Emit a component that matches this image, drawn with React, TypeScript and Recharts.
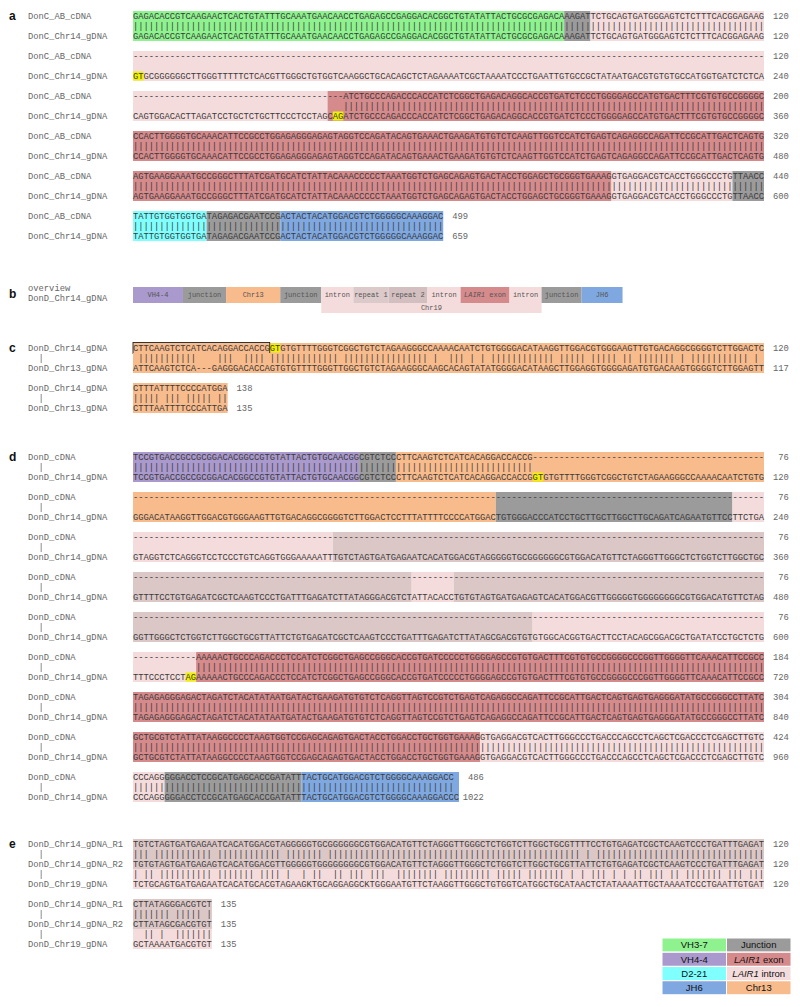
import React from "react";
import { BarChart, Bar, XAxis, YAxis } from "recharts";

const MONO = "'Liberation Mono', 'DejaVu Sans Mono', monospace";
const SANS = "'Liberation Sans', Arial, sans-serif";

const REGION_COLORS: Record<string, string> = {
  "VH3-7": "#8ef28e",
  "VH4-4": "#a999cc",
  "D2-21": "#80ffff",
  JH6: "#7fa8e0",
  Junction: "#9b9b9b",
  "LAIR1 exon": "#d58a8c",
  "LAIR1 intron": "#f5dcdc",
  Chr13: "#f8bb8c",
  repeat: "#dcc7c7",
  "repeat 1": "#dccaca",
  "repeat 2": "#d3bfbf",
  blank: "none",
};

type Seg = [string, number];
type Mark = [number, number, number, number]; // track, block, from, to

const gap = (n: number) => "-".repeat(n);

// ---- a: DonC antibody cDNA vs chr14 genomic
const aCdna = [
  "GAGACACCGTCAAGAACTCACTGTATTTGCAAATGAACAACCTGAGAGCCGAGGACACGGCTGTATATTACTGCGCGAGACAAAGATTCTGCAGTGATGGGAGTCTCTTTCACGGAGAAG",
  gap(120),
  gap(40) + "ATCTGCCCAGACCCACCATCTCGGCTGAGACAGGCACCGTGATCTCCCTGGGGAGCCATGTGACTTTCGTGTGCCGGGGC",
  "CCACTTGGGGTGCAAACATTCCGCCTGGAGAGGGAGAGTAGGTCCAGATACAGTGAAACTGAAGATGTGTCTCAAGTTGGTCCATCTGAGTCAGAGGCCAGATTCCGCATTGACTCAGTG",
  "AGTGAAGGAAATGCCGGGCTTTATCGATGCATCTATTACAAACCCCCTAAATGGTCTGAGCAGAGTGACTACCTGGAGCTGCGGGTGAAAGGTGAGGACGTCACCTGGGCCCTGTTAACC",
  "TATTGTGGTGGTGATAGAGACGAATCCGACTACTACATGGACGTCTGGGGGCAAAGGAC",
];
const aGdna = [
  "GAGACACCGTCAAGAACTCACTGTATTTGCAAATGAACAACCTGAGAGCCGAGGACACGGCTGTATATTACTGCGCGAGACAAAGATTCTGCAGTGATGGGAGTCTCTTTCACGGAGAAG",
  "GTGCGGGGGGCTTGGGTTTTTCTCACGTTGGGCTGTGGTCAAGGCTGCACAGCTCTAGAAAATCGCTAAAATCCCTGAATTGTGCCGCTATAATGACGTGTGTGCCATGGTGATCTCTCA",
  "CAGTGGACACTTAGATCCTGCTCTGCTTCCCTCCTAGCAG" + "ATCTGCCCAGACCCACCATCTCGGCTGAGACAGGCACCGTGATCTCCCTGGGGAGCCATGTGACTTTCGTGTGCCGGGGC",
  "CCACTTGGGGTGCAAACATTCCGCCTGGAGAGGGAGAGTAGGTCCAGATACAGTGAAACTGAAGATGTGTCTCAAGTTGGTCCATCTGAGTCAGAGGCCAGATTCCGCATTGACTCAGTG",
  "AGTGAAGGAAATGCCGGGCTTTATCGATGCATCTATTACAAACCCCCTAAATGGTCTGAGCAGAGTGACTACCTGGAGCTGCGGGTGAAAGGTGAGGACGTCACCTGGGCCCTGTTAACC",
  "TATTGTGGTGGTGATAGAGACGAATCCGACTACTACATGGACGTCTGGGGGCAAAGGAC",
];
const aCdnaEnd = [120, 120, 200, 320, 440, 499];
const aGdnaEnd = [120, 240, 360, 480, 600, 659];
const aBands: Seg[][] = [
  [["VH3-7", 82], ["Junction", 5], ["LAIR1 intron", 33]],
  [["LAIR1 intron", 120]],
  [["LAIR1 intron", 37], ["LAIR1 exon", 83]],
  [["LAIR1 exon", 120]],
  [["LAIR1 exon", 91], ["LAIR1 intron", 23], ["Junction", 6]],
  [["D2-21", 14], ["Junction", 14], ["JH6", 31]],
];
const aSplice: Mark[] = [[1, 1, 0, 2], [1, 2, 38, 40]];

// ---- b: overview of DonD chr14 insert
const bOverview: [string, string, number][] = [
  ["VH4-4", "VH4-4", 9.5],
  ["junction", "Junction", 8.2],
  ["Chr13", "Chr13", 10.3],
  ["junction", "Junction", 7.8],
  ["intron", "LAIR1 intron", 6.1],
  ["repeat 1", "repeat 1", 6.7],
  ["repeat 2", "repeat 2", 7.4],
  ["intron", "LAIR1 intron", 6.3],
  ["LAIR1 exon", "LAIR1 exon", 9.3],
  ["intron", "LAIR1 intron", 6.1],
  ["junction", "Junction", 7.6],
  ["JH6", "JH6", 7.8],
];
const bChr19: [string, string, number][] = [
  ["", "blank", 35.8],
  ["Chr19", "LAIR1 intron", 41.9],
];

// ---- c: DonD chr14 vs chr13
const cChr14 = [
  "CTTCAAGTCTCATCACAGGACCACCGGTGTGTTTTGGGTCGGCTGTCTAGAAGGGCCAAAACAATCTGTGGGGACATAAGGTTGGACGTGGGAAGTTGTGACAGGCGGGGTCTTGGACTC",
  "CTTTATTTTCCCCATGGA",
];
const cChr13 = [
  "ATTCAAGTCTCA---GAGGGACACCAGTGTGTTTTGGGTTGGCTGTCTAGAAGGGCAAGCACAGTATATGGGGACATAAGCTTGGAGGTGGGGAGATGTGACAAGTGGGGTCTTGGAGTT",
  "CTTTAATTTTCCCATTGA",
];
const cChr14End = [120, 138];
const cChr13End = [117, 135];
const cBands: Seg[][] = [[["Chr13", 120]], [["Chr13", 18]]];
const cSplice: Mark[] = [[0, 0, 26, 28]];
const cBoxes: Mark[] = [[0, 0, 0, 26]];

// ---- d: DonD cDNA vs chr14 genomic
const dCdna = [
  "TCCGTGACCGCCGCGGACACGGCCGTGTATTACTGTGCAACGGCGTCTCCCTTCAAGTCTCATCACAGGACCACCG" + gap(44),
  gap(120),
  gap(120),
  gap(120),
  gap(120),
  gap(12) + "AAAAACTGCCCAGACCCTCCATCTCGGCTGAGCCGGGCACCGTGATCCCCCTGGGGAGCCGTGTGACTTTCGTGTGCCGGGGCCCGGTTGGGGTTCAAACATTCCGCC",
  "TAGAGAGGGAGACTAGATCTACATATAATGATACTGAAGATGTGTCTCAGGTTAGTCCGTCTGAGTCAGAGGCCAGATTCCGCATTGACTCAGTGAGTGAGGGATATGCCGGGCCTTATC",
  "GCTGCGTCTATTATAAGGCCCCTAAGTGGTCCGAGCAGAGTGACTACCTGGACCTGCTGGTGAAAGGTGAGGACGTCACTTGGGCCCTGACCCAGCCTCAGCTCGACCCTCGAGCTTGTC",
  "CCCAGGGGGACCTCCGCATGAGCACCGATATTTACTGCATGGACGTCTGGGGCAAAGGACC",
];
const dGdna = [
  "TCCGTGACCGCCGCGGACACGGCCGTGTATTACTGTGCAACGGCGTCTCCCTTCAAGTCTCATCACAGGACCACCG" + "GTGTGTTTTGGGTCGGCTGTCTAGAAGGGCCAAAACAATCTGTG",
  "GGGACATAAGGTTGGACGTGGGAAGTTGTGACAGGCGGGGTCTTGGACTCCTTTATTTTCCCCATGGACTGTGGGACCCATCCTGCTTGCTTGGCTTGCAGATCAGAATGTTCCTTCTGA",
  "GTAGGTCTCAGGGTCCTCCCTGTCAGGTGGGAAAAATT" + "TGTCTAGTGATGAGAATCACATGGACGTAGGGGGTGCGGGGGGCGTGGACATGTTCTAGGGTTGGGCTCTGGTCTTGGCTGC",
  "GTTTTCCTGTGAGATCGCTCAAGTCCCTGATTTGAGAT" + "CTTATAGGGACGTCT" + "ATTACACC" + "TGTGTAGTGATGAGAGTCACATGGACGTTGGGGGTGGGGGGGGCGTGGACATGTTCTAG",
  "GGTTGGGCTCTGGTCTTGGCTGCGTTATTCTGTGAGATCGCTCAAGTCCCTGATTTGAGAT" + "CTTATAGCGACGTGT" + "GTGGCACGGTGACTTCCTACAGCGGACGCTGATATCCTGCTCTG",
  "TTTCCCTCCTAG" + "AAAAACTGCCCAGACCCTCCATCTCGGCTGAGCCGGGCACCGTGATCCCCCTGGGGAGCCGTGTGACTTTCGTGTGCCGGGGCCCGGTTGGGGTTCAAACATTCCGCC",
  "TAGAGAGGGAGACTAGATCTACATATAATGATACTGAAGATGTGTCTCAGGTTAGTCCGTCTGAGTCAGAGGCCAGATTCCGCATTGACTCAGTGAGTGAGGGATATGCCGGGCCTTATC",
  "GCTGCGTCTATTATAAGGCCCCTAAGTGGTCCGAGCAGAGTGACTACCTGGACCTGCTGGTGAAAGGTGAGGACGTCACTTGGGCCCTGACCCAGCCTCAGCTCGACCCTCGAGCTTGTC",
  "CCCAGGGGGACCTCCGCATGAGCACCGATATTTACTGCATGGACGTCTGGGGCAAAGGACCC",
];
const dCdnaEnd = [76, 76, 76, 76, 76, 184, 304, 424, 486];
const dGdnaEnd = [120, 240, 360, 480, 600, 720, 840, 960, 1022];
const dBands: Seg[][] = [
  [["VH4-4", 43], ["Junction", 7], ["Chr13", 70]],
  [["Chr13", 69], ["Junction", 45], ["LAIR1 intron", 6]],
  [["LAIR1 intron", 38], ["repeat", 82]],
  [["repeat", 53], ["LAIR1 intron", 8], ["repeat", 59]],
  [["repeat", 76], ["LAIR1 intron", 44]],
  [["LAIR1 intron", 12], ["LAIR1 exon", 108]],
  [["LAIR1 exon", 120]],
  [["LAIR1 exon", 66], ["LAIR1 intron", 54]],
  [["LAIR1 intron", 6], ["Junction", 26], ["JH6", 30]],
];
const dSplice: Mark[] = [[1, 0, 76, 78], [1, 5, 10, 12]];

// ---- e: the two chr14 repeats vs chr19
const eR1 = [
  "TGTCTAGTGATGAGAATCACATGGACGTAGGGGGTGCGGGGGGCGTGGACATGTTCTAGGGTTGGGCTCTGGTCTTGGCTGCGTTTTCCTGTGAGATCGCTCAAGTCCCTGATTTGAGAT",
  "CTTATAGGGACGTCT",
];
const eR2 = [
  "TGTGTAGTGATGAGAGTCACATGGACGTTGGGGGTGGGGGGGGCGTGGACATGTTCTAG" + "GGTTGGGCTCTGGTCTTGGCTGCGTTATTCTGTGAGATCGCTCAAGTCCCTGATTTGAGAT",
  "CTTATAGCGACGTGT",
];
const eChr19 = [
  "TCTGCAGTGATGAGAATCACATGCACGTAGAAGKTGCAGGAGGCKTGGGAATGTTCTAAGGTTGGGCTGTGGTCATGGCTGCATAACTCTATAAAATTGCTAAAATCCCTGAATTGTGAT",
  "GCTAAAATGACGTGT",
];
const eEnd = [120, 135];
const eRepeatBands: Seg[][] = [[["repeat", 120]], [["repeat", 15]]];
const eChr19Bands: Seg[][] = [[["LAIR1 intron", 120]], [["LAIR1 intron", 15]]];

// ---- colour key
const legendLeft = ["VH3-7", "VH4-4", "D2-21", "JH6"];
const legendRight = ["Junction", "LAIR1 exon", "LAIR1 intron", "Chr13"];

// ---------------------------------------------------------------

type Track = { label: string; seqs: string[]; ends: number[]; bands: Seg[][] };
type Row = {
  id: string;
  label: string;
  letter?: string;
  seq: string;
  end?: number;
  segs: Seg[];
  splice?: [number, number];
  box?: [number, number];
};

const ROW_H = 10;
const PLOT_LEFT = 133;
const PLOT_RIGHT = 36;
const COLS = 120;
const LABEL_X = 28;
const LETTER_X = 9;

function matchLine(a: string, b: string) {
  let out = "";
  for (let i = 0; i < a.length; i++) {
    out += a[i] === b[i] && a[i] !== "-" ? "|" : " ";
  }
  return out.replace(/\s+$/, "");
}

function buildRows(key: string, letter: string, tracks: Track[], pipe: string, marks: Mark[] = [], boxes: Mark[] = []) {
  const rows: Row[] = [];
  const nBlocks = tracks[0].seqs.length;
  for (let b = 0; b < nBlocks; b++) {
    tracks.forEach((t, ti) => {
      const m = marks.find((k) => k[0] === ti && k[1] === b);
      const bx = boxes.find((k) => k[0] === ti && k[1] === b);
      rows.push({
        id: key + rows.length,
        label: t.label,
        letter: b === 0 && ti === 0 ? letter : undefined,
        seq: t.seqs[b],
        end: t.ends[b],
        segs: t.bands[b],
        splice: m ? [m[2], m[3]] : undefined,
        box: bx ? [bx[2], bx[3]] : undefined,
      });
      if (ti < tracks.length - 1) {
        const next = tracks[ti + 1];
        rows.push({ id: key + rows.length, label: pipe, seq: matchLine(t.seqs[b], next.seqs[b]), segs: next.bands[b] });
      }
    });
    if (b < nBlocks - 1) rows.push({ id: key + rows.length, label: "", seq: "", segs: [] });
  }
  return rows;
}

const aRows = buildRows("a", "a", [
  { label: "DonC_AB_cDNA", seqs: aCdna, ends: aCdnaEnd, bands: aBands },
  { label: "DonC_Chr14_gDNA", seqs: aGdna, ends: aGdnaEnd, bands: aBands },
], "", aSplice);

const cRows = buildRows("c", "c", [
  { label: "DonD_Chr14_gDNA", seqs: cChr14, ends: cChr14End, bands: cBands },
  { label: "DonD_Chr13_gDNA", seqs: cChr13, ends: cChr13End, bands: cBands },
], "  |", cSplice, cBoxes);

const dRows = buildRows("d", "d", [
  { label: "DonD_cDNA", seqs: dCdna, ends: dCdnaEnd, bands: dBands },
  { label: "DonD_Chr14_gDNA", seqs: dGdna, ends: dGdnaEnd, bands: dBands },
], "  |", dSplice);

const eRows = buildRows("e", "e", [
  { label: "DonD_Chr14_gDNA_R1", seqs: eR1, ends: eEnd, bands: eRepeatBands },
  { label: "DonD_Chr14_gDNA_R2", seqs: eR2, ends: eEnd, bands: eRepeatBands },
  { label: "DonD_Chr19_gDNA", seqs: eChr19, ends: eEnd, bands: eChr19Bands },
], "  |");

function italicLair(label: string) {
  if (!label.startsWith("LAIR1")) return label;
  return (
    <>
      <tspan fontStyle="italic">LAIR1</tspan>
      {label.slice(5)}
    </>
  );
}

const rowTick = (byId: Record<string, Row>) => (p: any) => {
  const row = byId[p.payload?.value];
  if (!row) return <g />;
  return (
    <g>
      {row.letter && (
        <text x={LETTER_X} y={p.y} dy="0.35em" fontFamily={SANS} fontWeight="bold" fontSize={12} fill="#111">
          {row.letter}
        </text>
      )}
      {row.label && (
        <text x={LABEL_X} y={p.y} dy="0.35em" fontFamily={MONO} fontSize={8.8} fill="#666" xmlSpace="preserve" style={{ whiteSpace: "pre" }}>
          {row.label}
        </text>
      )}
    </g>
  );
};

const bandShape = (slot: number, last: boolean, byId: Record<string, Row>) => (p: any) => {
  const { x, y, width, height, payload } = p;
  if (!payload || !(width > 0)) return <g />;
  const row = byId[payload.id];
  const fill = REGION_COLORS[payload["k" + slot]] ?? "none";
  const rect = <rect x={x} y={y} width={width} height={height} fill={fill} />;
  if (!last || !row) return rect;
  const unit = width / payload["s" + slot];
  const total = row.segs.reduce((s, sg) => s + sg[1], 0);
  const x0 = x + width - total * unit;
  const cy = y + height / 2;
  return (
    <g>
      {rect}
      {row.splice && (
        <rect x={x0 + row.splice[0] * unit} y={y + 0.5} width={(row.splice[1] - row.splice[0]) * unit} height={height - 1} fill="#f2f200" />
      )}
      {row.box && (
        <rect x={x0 + row.box[0] * unit} y={y - 0.5} width={(row.box[1] - row.box[0]) * unit} height={height + 1} fill="none" stroke="#222" strokeWidth={0.9} />
      )}
      {row.seq && (
        <text
          x={x0}
          y={cy}
          dy="0.35em"
          fontFamily={MONO}
          fontSize={8.8}
          fill="#3a3a3a"
          textLength={row.seq.length * unit}
          lengthAdjust="spacing"
          xmlSpace="preserve"
          style={{ whiteSpace: "pre" }}
        >
          {row.seq}
        </text>
      )}
      {row.end != null && (
        <text x={x0 + total * unit + 9 + 3 * unit} y={cy} dy="0.35em" textAnchor="end" fontFamily={MONO} fontSize={8.8} fill="#666">
          {row.end}
        </text>
      )}
    </g>
  );
};

function AlignmentPanel({ rows, top }: { rows: Row[]; top: number }) {
  const byId: Record<string, Row> = {};
  rows.forEach((r) => (byId[r.id] = r));
  const slots = Math.max(1, ...rows.map((r) => r.segs.length));
  const data = rows.map((r) => {
    const d: Record<string, any> = { id: r.id };
    const off = slots - r.segs.length;
    for (let i = 0; i < slots; i++) {
      const seg = i >= off ? r.segs[i - off] : null;
      d["s" + i] = seg ? seg[1] : 0;
      d["k" + i] = seg ? seg[0] : "blank";
    }
    return d;
  });
  return (
    <div style={{ position: "absolute", left: 0, top }}>
      <BarChart
        width={800}
        height={rows.length * ROW_H}
        data={data}
        layout="vertical"
        margin={{ top: 0, right: PLOT_RIGHT, bottom: 0, left: 0 }}
        barCategoryGap={0}
        barGap={0}
      >
        <XAxis type="number" domain={[0, COLS]} hide />
        <YAxis type="category" dataKey="id" width={PLOT_LEFT} interval={0} axisLine={false} tickLine={false} tick={rowTick(byId)} />
        {Array.from({ length: slots }, (_, i) => (
          <Bar key={i} dataKey={"s" + i} stackId="band" isAnimationActive={false} shape={bandShape(i, i === slots - 1, byId)} />
        ))}
      </BarChart>
    </div>
  );
}

function StripChart({ top, height, segs, lines, letter }: { top: number; height: number; segs: [string, string, number][]; lines?: string[]; letter?: string }) {
  const row: Record<string, any> = { id: "strip" };
  segs.forEach((s, i) => (row["s" + i] = s[2]));
  const shape = (i: number) => (p: any) => {
    const { x, y, width, height: h } = p;
    if (!(width > 0)) return <g />;
    const [label, region] = segs[i];
    return (
      <g>
        <rect x={x} y={y} width={width} height={h} fill={REGION_COLORS[region]} />
        {label && (
          <text x={x + width / 2} y={y + h / 2} dy="0.35em" textAnchor="middle" fontFamily={MONO} fontSize={7} fill="#555" xmlSpace="preserve">
            {italicLair(label)}
          </text>
        )}
      </g>
    );
  };
  const tick = (p: any) => (
    <g>
      {letter && (
        <text x={LETTER_X} y={p.y - 1} dy="0.35em" fontFamily={SANS} fontWeight="bold" fontSize={12} fill="#111">
          {letter}
        </text>
      )}
      {(lines || []).map((l, i) => (
        <text key={l} x={LABEL_X} y={p.y - 7 + i * 10} dy="0.35em" fontFamily={MONO} fontSize={8.8} fill="#666">
          {l}
        </text>
      ))}
    </g>
  );
  return (
    <div style={{ position: "absolute", left: 0, top }}>
      <BarChart width={800} height={height} data={[row]} layout="vertical" margin={{ top: 0, right: PLOT_RIGHT, bottom: 0, left: 0 }} barCategoryGap={0} barGap={0}>
        <XAxis type="number" domain={[0, COLS]} hide />
        <YAxis type="category" dataKey="id" width={PLOT_LEFT} interval={0} axisLine={false} tickLine={false} tick={tick} />
        {segs.map((_, i) => (
          <Bar key={i} dataKey={"s" + i} stackId="strip" isAnimationActive={false} shape={shape(i)} />
        ))}
      </BarChart>
    </div>
  );
}

function KeyChart({ left, top }: { left: number; top: number }) {
  const data = legendLeft.map((l, i) => ({ id: "k" + i, left: 1, right: 1, lk: l, rk: legendRight[i] }));
  const shape = (side: "lk" | "rk") => (p: any) => {
    const { x, y, width, height, payload } = p;
    const key = payload[side];
    return (
      <g>
        <rect x={x} y={y} width={width} height={height} fill={REGION_COLORS[key]} stroke="#fff" strokeWidth={1} />
        <text x={x + width / 2} y={y + height / 2} dy="0.35em" textAnchor="middle" fontFamily={SANS} fontSize={9.5} fill="#111">
          {italicLair(key)}
        </text>
      </g>
    );
  };
  return (
    <div style={{ position: "absolute", left, top }}>
      <BarChart width={129} height={57} data={data} layout="vertical" margin={{ top: 0, right: 0, bottom: 0, left: 0 }} barCategoryGap={0} barGap={0}>
        <XAxis type="number" domain={[0, 2]} hide />
        <YAxis type="category" dataKey="id" hide />
        <Bar dataKey="left" stackId="k" isAnimationActive={false} shape={shape("lk")} />
        <Bar dataKey="right" stackId="k" isAnimationActive={false} shape={shape("rk")} />
      </BarChart>
    </div>
  );
}

export default function App() {
  return (
    <div style={{ position: "absolute", left: 0, top: 0, width: 800, height: 1007, background: "#fff", overflow: "hidden" }}>
      <style>{".recharts-surface{overflow:visible}"}</style>
      <AlignmentPanel rows={aRows} top={11} />
      <StripChart top={287} height={16} segs={bOverview} lines={["overview", "DonD_Chr14_gDNA"]} letter="b" />
      <StripChart top={303} height={10} segs={bChr19} />
      <AlignmentPanel rows={cRows} top={343} />
      <AlignmentPanel rows={dRows} top={452} />
      <AlignmentPanel rows={eRows} top={839} />
      <KeyChart left={662} top={938} />
    </div>
  );
}
